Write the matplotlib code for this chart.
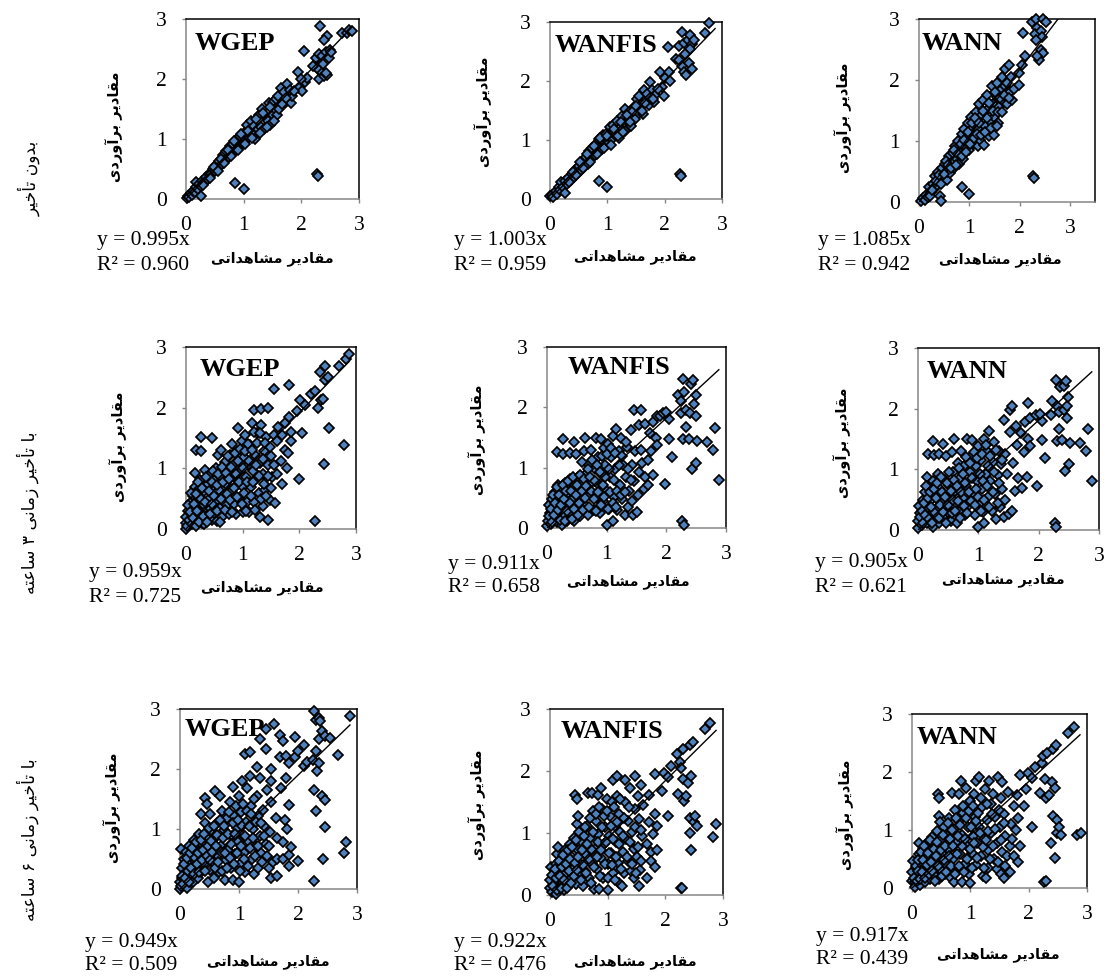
import matplotlib
matplotlib.use("Agg")
import matplotlib.pyplot as plt

W, H = 1107, 977

wgep_0 = [(0.02,0.02),(0.04,0.05),(0.06,0.03),(0.08,0.1),(0.1,0.07),(0.12,0.14),(0.15,0.12),(0.17,0.2),(0.18,0.28),(0.2,0.17),
    (0.22,0.25),(0.26,0.05),(0.26,0.22),(0.28,0.3),(0.32,0.28),(0.34,0.36),(0.38,0.34),(0.4,0.42),(0.44,0.41),(0.46,0.5),
    (0.5,0.46),(0.52,0.56),(0.56,0.52),(0.58,0.64),(0.62,0.58),(0.64,0.74),(0.68,0.65),(0.7,0.8),(0.74,0.7),(0.76,0.88),
    (0.8,0.76),(0.82,0.92),(0.86,0.82),(0.88,1.0),(0.92,0.86),(0.94,1.05),(0.98,0.92),(1.0,1.1),(1.04,0.98),(1.06,1.24),
    (1.1,1.04),(1.12,1.3),(1.16,1.1),(1.18,1.22),(1.2,1.0),(1.24,1.16),(1.26,1.4),(1.3,1.2),(1.32,1.5),(1.36,1.16),
    (1.38,1.36),(1.42,1.3),(1.44,1.6),(1.46,1.24),(1.5,1.4),(1.5,1.62),(1.54,1.5),(1.58,1.4),(1.62,1.5),(1.65,1.85),
    (1.68,1.66),(1.72,1.6),(1.76,1.92),(1.78,1.74),(1.82,1.6),(1.84,1.72),(1.94,2.11),(1.96,1.85),(2.02,1.8),(2.06,1.95),
    (2.1,2.02),(2.05,2.46),(2.25,2.35),(2.3,2.42),(2.35,2.38),(2.25,2.2),(2.2,2.22),(2.3,2.15),(2.35,2.1),(2.3,2.0),
    (2.4,2.05),(2.45,2.07),(2.42,2.1),(2.37,2.25),(2.43,2.45),(2.48,2.35),(2.5,2.48),(2.52,2.45),(2.32,2.89),(2.45,2.72),
    (2.4,2.65),(2.7,2.76),(2.8,2.76),(2.83,2.81),(2.88,2.8),(0.85,0.26),(1.0,0.17),(2.27,0.41),(2.29,0.39),
    (0.3,0.24),(0.42,0.35),(0.48,0.54),(0.55,0.47),(0.6,0.66),(0.66,0.6),(0.72,0.82),(0.78,0.72),(0.84,0.96),(0.9,0.82),
    (0.96,1.08),(1.02,0.92),(1.08,1.14),(1.14,1.02),(1.22,1.34),(1.28,1.1),(1.34,1.44),(1.4,1.2),(1.46,1.54),(1.52,1.3),
    (1.56,1.66),(1.6,1.72),(1.66,1.58),(1.7,1.78),(1.74,1.68),(1.8,1.82),(1.88,1.8),(2.0,2.0)]

wanfis_0 = [(0.0,0.05),(0.03,0.07),(0.06,0.04),(0.1,0.13),(0.12,0.09),(0.15,0.2),(0.18,0.15),(0.2,0.28),(0.22,0.2),(0.26,0.1),
    (0.26,0.3),(0.3,0.26),(0.32,0.36),(0.36,0.32),(0.38,0.42),(0.42,0.38),(0.44,0.5),(0.48,0.44),(0.5,0.56),(0.54,0.5),
    (0.56,0.6),(0.6,0.54),(0.62,0.72),(0.66,0.6),(0.68,0.82),(0.72,0.68),(0.74,0.86),(0.78,0.74),(0.8,0.94),(0.84,0.8),
    (0.86,1.02),(0.9,0.84),(0.92,1.08),(0.96,0.9),(0.98,1.1),(1.02,0.96),(1.04,1.22),(1.08,1.02),(1.1,1.25),(1.14,1.08),
    (1.16,1.32),(1.2,1.04),(1.22,1.2),(1.26,1.4),(1.3,1.16),(1.3,1.52),(1.36,1.3),(1.38,1.48),(1.42,1.24),(1.46,1.56),
    (1.48,1.36),(1.52,1.7),(1.55,1.45),(1.58,1.6),(1.62,1.44),(1.64,1.85),(1.68,1.7),(1.72,1.6),(1.75,1.98),(1.78,1.85),
    (1.82,1.64),(1.84,1.76),(1.92,2.16),(1.98,1.75),(1.95,1.9),(2.0,2.05),(2.08,2.16),(2.1,2.0),(2.05,2.58),(2.2,2.38),
    (2.25,2.35),(2.3,2.25),(2.33,2.15),(2.38,2.1),(2.42,2.3),(2.47,2.2),(2.3,2.83),(2.25,2.6),(2.33,2.65),(2.4,2.7),
    (2.45,2.78),(2.48,2.62),(2.52,2.7),(2.45,2.55),(2.36,2.45),(2.7,2.82),(2.78,2.98),(0.85,0.31),(1.0,0.21),(2.27,0.42),(2.29,0.39),
    (0.34,0.28),(0.4,0.46),(0.46,0.4),(0.52,0.62),(0.58,0.52),(0.64,0.76),(0.7,0.62),(0.76,0.9),(0.82,0.76),(0.88,1.04),
    (0.94,0.86),(1.0,1.06),(1.06,0.92),(1.12,1.18),(1.18,1.06),(1.24,1.3),(1.28,1.14),(1.34,1.42),(1.4,1.3),(1.44,1.5),
    (1.5,1.58),(1.56,1.74),(1.6,1.5),(1.66,1.62),(1.7,1.78),(1.74,1.72),(1.8,1.7),(1.88,1.86)]

wann_0 = [(0.03,0.01),(0.08,0.06),(0.12,0.04),(0.14,0.12),(0.18,0.09),(0.2,0.25),(0.24,0.16),(0.27,0.3),(0.3,0.22),(0.32,0.42),
    (0.36,0.28),(0.38,0.5),(0.42,0.1),(0.43,0.01),(0.42,0.36),(0.46,0.55),(0.48,0.4),(0.52,0.62),(0.55,0.36),(0.56,0.5),
    (0.6,0.75),(0.62,0.48),(0.65,0.66),(0.68,0.8),(0.7,0.55),(0.72,0.92),(0.75,0.7),(0.78,1.0),(0.8,0.62),(0.82,0.82),
    (0.85,1.12),(0.88,0.7),(0.9,1.2),(0.92,0.92),(0.95,1.05),(0.98,1.3),(1.0,0.85),(1.03,1.4),(1.05,1.1),(1.08,0.95),
    (1.1,1.28),(1.13,1.48),(1.17,0.92),(1.18,1.2),(1.2,1.6),(1.22,1.02),(1.25,1.42),(1.28,1.68),(1.3,0.94),(1.32,1.25),
    (1.35,1.75),(1.37,1.52),(1.4,1.08),(1.42,1.32),(1.45,1.9),(1.47,1.6),(1.5,1.1),(1.5,1.4),(1.55,1.95),(1.55,1.72),
    (1.58,1.3),(1.6,1.55),(1.65,2.05),(1.66,1.85),(1.68,1.65),(1.72,1.9),(1.72,2.18),(1.75,1.6),(1.78,2.25),(1.8,1.8),
    (1.82,2.05),(1.85,1.68),(1.88,1.85),(1.98,1.92),(1.98,2.12),(2.05,2.25),(2.1,2.4),(2.07,2.77),(2.25,2.95),(2.32,3.0),
    (2.47,3.0),(2.52,2.95),(2.35,2.85),(2.3,2.75),(2.42,2.8),(2.45,2.7),(2.33,2.65),(2.42,2.5),(2.47,2.45),(2.38,2.32),
    (2.35,2.4),(0.85,0.25),(1.0,0.13),(2.27,0.43),(2.29,0.4),
    (0.22,0.1),(0.26,0.2),(0.34,0.35),(0.4,0.45),(0.44,0.3),(0.5,0.46),(0.54,0.68),(0.58,0.6),(0.64,0.55),(0.7,0.85),
    (0.74,0.6),(0.78,0.78),(0.84,0.95),(0.86,0.75),(0.9,1.02),(0.94,0.82),(0.98,1.15),(1.02,0.95),(1.06,1.3),(1.1,1.05),
    (1.12,1.38),(1.15,1.12),(1.2,1.3),(1.24,1.1),(1.28,1.5),(1.32,1.15),(1.35,1.38),(1.4,1.62),(1.44,1.22),(1.48,1.5),
    (1.52,1.8),(1.55,1.25),(1.58,1.48),(1.62,1.7),(1.65,1.48),(1.7,1.75),(1.75,1.95),(1.78,1.7)]

wgep_3 = [(0.0,0.0),(0.0,0.1),(0.0,0.2),(0.02,0.05),(0.03,0.3),(0.05,0.15),(0.08,0.45),(0.1,0.08),(0.1,0.25),(0.12,0.55),
    (0.15,0.35),(0.15,0.7),(0.15,0.93),(0.18,0.15),(0.2,0.48),(0.22,0.65),(0.25,0.28),(0.25,0.8),(0.28,0.1),(0.3,0.42),
    (0.32,0.08),(0.32,0.62),(0.33,0.97),(0.35,0.22),(0.38,0.75),(0.4,0.5),(0.42,0.35),(0.43,0.9),(0.45,0.15),(0.47,0.62),
    (0.5,0.27),(0.5,0.8),(0.52,0.45),(0.53,1.0),(0.55,0.13),(0.56,1.22),(0.58,0.65),(0.6,0.35),(0.6,0.88),(0.62,1.3),
    (0.64,0.2),(0.66,0.55),(0.68,1.1),(0.7,0.75),(0.72,0.4),(0.74,0.95),(0.76,0.25),(0.78,1.22),(0.8,0.62),(0.82,1.4),
    (0.84,0.85),(0.85,0.42),(0.87,1.08),(0.88,0.25),(0.9,0.72),(0.9,1.28),(0.92,1.66),(0.94,0.5),(0.96,0.95),(0.98,1.45),
    (1.0,0.28),(1.0,0.7),(1.02,1.18),(1.04,1.55),(1.06,0.85),(1.08,0.45),(1.1,1.05),(1.12,0.28),(1.13,1.38),(1.15,0.7),
    (1.17,1.75),(1.18,0.95),(1.2,1.96),(1.2,0.45),(1.22,1.22),(1.24,0.82),(1.26,1.58),(1.28,0.6),(1.3,1.08),(1.3,0.2),
    (1.33,1.98),(1.33,1.72),(1.35,0.9),(1.35,0.38),(1.38,1.28),(1.4,0.65),(1.42,1.52),(1.45,2.0),(1.45,1.05),(1.45,0.15),
    (1.48,0.48),(1.5,1.2),(1.52,0.85),(1.55,2.3),(1.55,1.55),(1.57,0.43),(1.6,0.9),(1.6,1.45),(1.62,1.68),(1.68,1.12),
    (1.7,0.75),(1.7,1.55),(1.75,1.3),(1.75,1.75),(1.78,1.0),(1.8,1.25),(1.82,2.37),(1.82,1.85),(1.85,1.45),(1.85,1.6),
    (1.95,1.95),(2.0,0.83),(2.02,2.12),(2.05,1.58),(2.1,2.05),(2.2,2.22),(2.27,2.28),(2.27,0.14),(2.33,2.0),(2.38,2.12),
    (2.42,2.15),(2.37,2.58),(2.45,2.69),(2.45,2.45),(2.5,2.5),(2.43,1.07),(2.53,1.67),(2.7,2.69),(2.78,1.39),(2.82,2.81),
    (2.88,2.89),(0.27,1.52),(0.45,1.5),(0.18,1.3),(0.27,1.28),
    (0.04,0.4),(0.07,0.28),(0.09,0.6),(0.12,0.18),(0.14,0.42),(0.17,0.05),(0.18,0.58),(0.2,0.3),(0.22,0.78),(0.23,0.12),
    (0.26,0.5),(0.28,0.68),(0.3,0.22),(0.34,0.45),(0.36,0.85),(0.37,0.12),(0.4,0.62),(0.42,0.25),(0.45,0.78),(0.46,0.42),
    (0.48,0.95),(0.5,0.55),(0.54,0.72),(0.55,0.3),(0.57,0.9),(0.6,0.12),(0.62,0.5),(0.64,1.02),(0.66,0.78),(0.68,0.32),
    (0.7,0.92),(0.72,0.58),(0.74,1.2),(0.76,0.82),(0.78,0.48),(0.8,1.02),(0.82,0.28),(0.84,0.68),(0.86,1.25),(0.88,0.9),
    (0.9,0.52),(0.92,1.12),(0.94,0.78),(0.96,1.32),(0.98,0.42),(1.0,1.0),(1.02,0.6),(1.04,1.28),(1.06,0.3),(1.08,0.78),
    (1.1,1.4),(1.12,1.12),(1.14,0.55),(1.16,1.3),(1.18,0.78),(1.2,1.6),(1.22,0.32),(1.24,1.05),(1.26,1.42),(1.28,0.88),
    (1.3,1.58),(1.32,0.5),(1.35,1.15),(1.38,0.75),(1.4,1.42),(1.42,0.55),(1.45,0.88),(1.48,1.35),(1.5,0.68),(1.55,1.05)]

wanfis_3 = [(0.0,0.03),(0.02,0.12),(0.03,0.38),(0.05,0.25),(0.06,0.06),(0.08,0.48),(0.1,0.17),(0.12,0.35),(0.14,0.6),(0.16,0.1),
    (0.17,1.26),(0.18,0.72),(0.2,0.28),(0.22,0.5),(0.25,0.05),(0.25,0.65),(0.27,1.47),(0.27,1.23),(0.28,0.2),(0.3,0.75),
    (0.32,0.4),(0.34,0.12),(0.36,0.58),(0.38,1.25),(0.38,0.82),(0.4,0.25),(0.42,0.48),(0.45,1.42),(0.45,0.12),(0.46,0.7),
    (0.48,1.22),(0.5,0.36),(0.52,0.85),(0.54,0.55),(0.56,0.2),(0.58,1.1),(0.6,0.72),(0.62,1.28),(0.63,1.5),(0.64,0.38),
    (0.66,0.9),(0.68,0.22),(0.7,1.05),(0.72,0.55),(0.74,1.3),(0.76,0.76),(0.78,0.3),(0.8,0.98),(0.82,1.5),(0.83,0.5),
    (0.85,1.18),(0.87,0.72),(0.88,0.25),(0.9,1.47),(0.92,0.88),(0.94,0.45),(0.96,1.32),(0.98,1.05),(1.0,0.05),(1.0,0.62),
    (1.02,1.4),(1.04,0.32),(1.06,0.85),(1.08,1.18),(1.1,0.12),(1.1,1.52),(1.12,0.52),(1.14,0.98),(1.16,1.64),(1.18,0.3),
    (1.2,1.28),(1.22,0.72),(1.24,1.5),(1.26,0.48),(1.28,1.05),(1.3,0.22),(1.32,0.85),(1.34,1.35),(1.36,0.35),(1.38,0.62),
    (1.4,1.62),(1.42,1.05),(1.44,0.22),(1.45,1.96),(1.46,0.78),(1.48,1.28),(1.5,0.26),(1.52,0.55),(1.54,1.7),(1.55,0.92),
    (1.58,1.96),(1.58,1.3),(1.6,1.08),(1.62,0.65),(1.64,1.72),(1.65,0.85),(1.7,1.12),(1.7,0.72),(1.72,1.58),(1.75,1.28),
    (1.78,0.88),(1.78,1.75),(1.82,1.5),(1.85,1.85),(1.85,1.38),(1.9,1.85),(1.95,1.9),(1.98,0.73),(2.0,1.92),(2.05,1.8),
    (2.05,1.48),(2.1,1.18),(2.2,2.2),(2.25,2.1),(2.25,1.9),(2.27,0.12),(2.29,0.05),(2.28,1.47),(2.28,2.47),(2.3,2.25),
    (2.33,1.95),(2.33,1.67),(2.38,1.48),(2.4,1.9),(2.42,2.38),(2.43,0.98),(2.45,2.45),(2.47,2.05),(2.5,2.2),(2.5,1.85),
    (2.5,1.08),(2.52,1.44),(2.68,1.43),(2.78,1.3),(2.82,1.66),(2.88,0.8),
    (0.04,0.2),(0.07,0.32),(0.09,0.1),(0.1,0.55),(0.12,0.22),(0.14,0.42),(0.16,0.68),(0.18,0.3),(0.2,0.55),(0.22,0.14),
    (0.24,0.38),(0.26,0.72),(0.28,0.48),(0.3,0.12),(0.32,0.62),(0.34,0.28),(0.36,0.78),(0.38,0.42),(0.4,0.62),(0.42,0.15),
    (0.44,0.85),(0.46,0.32),(0.48,0.55),(0.5,0.72),(0.52,0.22),(0.54,0.42),(0.56,0.88),(0.58,0.62),(0.6,0.3),(0.62,0.82),
    (0.64,0.5),(0.66,0.7),(0.68,0.98),(0.7,0.35),(0.72,0.85),(0.74,0.62),(0.76,1.12),(0.78,0.48),(0.8,0.78),(0.82,0.28),
    (0.84,1.05),(0.86,0.6),(0.88,0.92),(0.9,0.38),(0.92,1.2),(0.94,0.72),(0.96,0.52),(0.98,0.85),(1.0,1.22),(1.02,0.32),
    (1.04,0.98),(1.06,0.6),(1.08,1.32),(1.1,0.42),(1.12,0.8),(1.14,1.25),(1.16,0.35),(1.18,0.62),(1.2,1.05),(1.24,0.55),
    (1.26,1.2),(1.3,0.6),(1.32,1.42),(1.35,0.98),(1.4,0.8),(1.42,0.45)]

wann_3 = [(0.0,0.03),(0.0,0.15),(0.02,0.4),(0.04,0.28),(0.06,0.08),(0.08,0.5),(0.1,0.2),(0.12,0.62),(0.14,0.35),(0.15,0.12),
    (0.15,0.88),(0.17,1.25),(0.18,0.72),(0.2,0.48),(0.22,0.25),(0.25,0.05),(0.25,0.8),(0.25,1.47),(0.27,1.23),(0.28,0.58),
    (0.3,0.35),(0.33,0.93),(0.35,1.25),(0.35,0.12),(0.37,0.68),(0.4,0.45),(0.42,1.42),(0.42,0.22),(0.44,0.82),(0.47,1.22),
    (0.48,0.55),(0.5,0.3),(0.52,0.75),(0.54,0.15),(0.56,1.28),(0.58,0.95),(0.6,0.42),(0.6,1.5),(0.62,0.65),(0.64,0.12),
    (0.66,1.1),(0.68,0.3),(0.7,0.85),(0.72,1.3),(0.74,0.52),(0.76,1.05),(0.78,0.25),(0.8,0.72),(0.82,1.5),(0.84,0.42),
    (0.86,0.95),(0.88,1.22),(0.9,1.48),(0.92,0.6),(0.94,0.25),(0.96,1.05),(0.98,0.8),(1.0,0.05),(1.0,1.38),(1.02,0.45),
    (1.04,1.15),(1.06,0.68),(1.08,0.3),(1.1,0.12),(1.1,1.5),(1.12,0.92),(1.14,1.3),(1.16,0.55),(1.18,1.64),(1.2,0.8),
    (1.22,0.32),(1.24,1.12),(1.26,1.45),(1.28,0.6),(1.3,0.18),(1.32,0.9),(1.34,1.3),(1.36,0.38),(1.38,1.08),(1.4,0.68),
    (1.42,0.22),(1.42,1.82),(1.45,1.25),(1.48,0.92),(1.5,0.26),(1.52,1.62),(1.52,1.98),(1.55,2.05),(1.56,0.32),(1.58,1.1),
    (1.6,0.65),(1.62,1.72),(1.64,1.4),(1.66,0.85),(1.7,1.6),(1.72,0.7),(1.75,1.28),(1.78,1.78),(1.8,0.88),(1.82,2.1),
    (1.82,1.5),(1.85,1.85),(1.85,1.38),(1.95,1.9),(1.98,0.73),(2.05,1.8),(2.05,1.48),(2.02,1.92),(2.1,1.18),(2.2,1.9),
    (2.22,2.13),(2.27,0.12),(2.29,0.05),(2.28,2.47),(2.3,2.05),(2.33,1.95),(2.33,1.67),(2.3,1.47),(2.38,1.48),(2.35,2.35),
    (2.42,1.98),(2.42,2.38),(2.43,0.98),(2.45,2.45),(2.47,2.05),(2.48,2.2),(2.47,1.85),(2.5,1.08),(2.52,1.44),(2.68,1.43),
    (2.78,1.3),(2.82,1.66),(2.88,0.8),
    (0.03,0.22),(0.06,0.32),(0.08,0.12),(0.1,0.45),(0.12,0.25),(0.13,0.72),(0.16,0.52),(0.18,0.18),(0.2,0.62),(0.22,0.38),
    (0.24,0.12),(0.26,0.68),(0.28,0.28),(0.3,0.52),(0.32,0.78),(0.34,0.2),(0.36,0.42),(0.38,0.88),(0.4,0.62),(0.42,0.3),
    (0.44,0.55),(0.46,0.12),(0.48,0.78),(0.5,0.42),(0.52,0.95),(0.54,0.65),(0.56,0.28),(0.58,0.5),(0.6,0.82),(0.62,0.32),
    (0.64,0.72),(0.66,0.48),(0.68,1.02),(0.7,0.2),(0.72,0.62),(0.74,0.92),(0.76,0.4),(0.78,0.78),(0.8,1.2),(0.82,0.28),
    (0.84,0.62),(0.86,1.1),(0.88,0.48),(0.9,0.85),(0.92,1.28),(0.94,0.42),(0.96,0.68),(0.98,1.18),(1.0,0.55),(1.02,0.92),
    (1.04,0.32),(1.06,1.25),(1.08,0.8),(1.1,0.5),(1.12,1.4),(1.14,0.72),(1.16,1.05),(1.18,0.38),(1.2,1.22),(1.24,0.62),
    (1.26,0.95),(1.3,1.32),(1.32,0.45),(1.35,0.78),(1.4,1.15),(1.45,0.5)]

wgep_6 = [(0.0,0.0),(0.0,0.12),(0.02,0.05),(0.03,0.35),(0.04,0.18),(0.02,0.67),(0.06,0.5),(0.08,0.08),(0.1,0.28),(0.1,0.62),
    (0.12,0.02),(0.14,0.42),(0.16,0.72),(0.18,0.2),(0.2,0.55),(0.22,0.12),(0.24,0.82),(0.26,0.38),(0.28,0.65),(0.3,0.18),
    (0.32,0.92),(0.34,0.5),(0.35,1.25),(0.36,0.28),(0.38,0.75),(0.4,0.42),(0.43,1.52),(0.42,1.1),(0.44,0.62),(0.45,1.42),
    (0.46,0.85),(0.48,0.12),(0.5,1.25),(0.5,0.32),(0.52,0.98),(0.54,0.68),(0.56,0.45),(0.58,0.18),(0.6,1.63),(0.6,0.85),
    (0.62,1.1),(0.64,0.55),(0.66,0.28),(0.68,1.55),(0.7,0.72),(0.72,1.3),(0.74,0.98),(0.76,0.15),(0.78,0.48),(0.8,1.18),
    (0.82,0.65),(0.84,1.45),(0.86,0.35),(0.88,0.88),(0.9,1.7),(0.9,0.15),(0.92,1.22),(0.94,0.58),(0.96,1.02),(0.98,0.78),
    (1.0,0.12),(1.0,1.55),(1.02,0.42),(1.04,1.28),(1.05,1.8),(1.06,0.9),(1.08,0.6),(1.1,2.25),(1.1,0.28),(1.12,1.12),
    (1.14,1.68),(1.16,0.8),(1.18,2.28),(1.18,1.88),(1.2,1.38),(1.22,0.5),(1.24,1.0),(1.26,0.25),(1.28,0.72),(1.3,2.03),
    (1.3,1.55),(1.32,1.22),(1.32,0.35),(1.35,2.5),(1.35,1.85),(1.36,0.88),(1.38,0.6),(1.4,1.32),(1.42,1.05),(1.45,2.67),
    (1.45,2.33),(1.45,0.75),(1.48,1.65),(1.5,0.35),(1.52,0.95),(1.55,2.0),(1.55,1.8),(1.55,1.45),(1.55,0.18),(1.58,0.45),
    (1.6,2.75),(1.62,1.18),(1.64,0.85),(1.65,0.22),(1.65,0.5),(1.7,2.57),(1.7,2.2),(1.72,1.68),(1.75,2.47),(1.75,0.5),
    (1.75,0.78),(1.78,1.15),(1.8,2.22),(1.8,1.85),(1.82,1.0),(1.85,2.1),(1.85,1.4),(1.85,0.57),(1.85,0.38),(1.88,0.7),
    (1.95,2.53),(1.95,2.2),(2.0,0.47),(2.0,2.3),(2.1,2.05),(2.1,2.4),(2.15,2.12),(2.25,2.15),(2.27,0.13),(2.27,1.65),
    (2.27,2.97),(2.3,2.82),(2.3,2.3),(2.3,1.3),(2.32,1.97),(2.35,2.1),(2.35,2.5),(2.35,2.85),(2.38,2.8),(2.4,2.63),
    (2.4,1.55),(2.42,0.5),(2.45,2.55),(2.45,1.48),(2.45,1.03),(2.55,2.52),(2.68,2.23),(2.78,0.6),(2.82,0.78),(2.88,2.88),
    (0.03,0.22),(0.05,0.08),(0.07,0.42),(0.09,0.18),(0.12,0.52),(0.13,0.3),(0.15,0.12),(0.17,0.6),(0.19,0.35),(0.21,0.68),
    (0.23,0.25),(0.25,0.52),(0.27,0.78),(0.29,0.42),(0.31,0.6),(0.33,0.28),(0.35,0.82),(0.37,0.48),(0.39,0.65),(0.41,0.92),
    (0.43,0.3),(0.45,0.55),(0.47,0.72),(0.49,1.02),(0.51,0.48),(0.53,0.8),(0.55,0.62),(0.57,1.05),(0.59,0.35),(0.61,0.72),
    (0.63,0.9),(0.65,0.45),(0.67,1.15),(0.69,0.62),(0.71,0.3),(0.73,0.85),(0.75,1.05),(0.77,0.6),(0.79,0.35),(0.81,0.92),
    (0.83,1.28),(0.85,0.52),(0.87,0.75),(0.89,1.1),(0.91,0.42),(0.93,0.92),(0.95,1.38),(0.97,0.6),(0.99,1.15),(1.01,0.3),
    (1.03,0.72),(1.05,1.05),(1.07,1.42),(1.09,0.5),(1.11,0.88),(1.13,1.3),(1.15,0.38),(1.17,1.05),(1.19,0.68),(1.21,1.25),
    (1.23,0.85),(1.25,1.5),(1.27,0.55),(1.29,1.12),(1.33,0.72),(1.37,1.1),(1.39,0.45),(1.43,0.88),(1.47,0.55),(1.5,0.72)]

wanfis_6 = [(0.0,0.12),(0.0,0.25),(0.02,0.45),(0.04,0.05),(0.05,0.33),(0.08,0.18),(0.1,0.5),(0.1,0.02),(0.12,0.66),(0.14,0.28),
    (0.14,0.78),(0.16,0.12),(0.18,0.42),(0.2,0.6),(0.22,0.2),(0.24,0.08),(0.26,0.72),(0.28,0.35),(0.3,0.52),(0.32,0.15),
    (0.34,0.82),(0.36,0.28),(0.38,0.62),(0.4,0.42),(0.42,0.92),(0.44,1.62),(0.45,0.18),(0.47,1.55),(0.46,1.15),(0.48,1.27),
    (0.48,0.72),(0.5,0.32),(0.52,0.5),(0.54,1.02),(0.56,0.85),(0.58,0.15),(0.6,0.38),(0.62,0.65),(0.66,1.64),(0.64,1.12),
    (0.68,0.28),(0.7,0.92),(0.72,0.5),(0.72,1.65),(0.74,1.35),(0.76,0.1),(0.78,0.75),(0.8,1.2),(0.82,0.42),(0.84,1.62),
    (0.84,0.98),(0.85,0.1),(0.88,1.72),(0.88,0.6),(0.9,1.38),(0.92,0.28),(0.94,0.82),(0.96,1.1),(0.98,1.55),(1.0,0.08),
    (1.0,0.5),(1.02,0.95),(1.04,1.28),(1.06,0.68),(1.08,1.5),(1.1,0.35),(1.1,1.85),(1.12,1.12),(1.14,0.85),(1.16,1.92),
    (1.16,1.6),(1.18,0.52),(1.2,0.2),(1.2,1.3),(1.22,1.02),(1.25,0.15),(1.26,0.7),(1.28,0.35),(1.3,1.5),(1.3,1.85),
    (1.32,0.9),(1.35,1.2),(1.36,0.55),(1.38,1.72),(1.4,0.38),(1.42,1.02),(1.45,0.28),(1.45,0.75),(1.48,1.92),(1.48,1.38),
    (1.5,0.62),(1.52,1.6),(1.55,1.22),(1.55,0.15),(1.56,0.4),(1.58,0.55),(1.58,1.78),(1.6,0.95),(1.62,1.45),(1.68,0.28),
    (1.68,0.82),(1.72,1.62),(1.72,1.18),(1.75,0.7),(1.76,0.55),(1.78,0.98),(1.82,1.3),(1.82,0.45),(1.85,0.72),(1.85,1.12),
    (1.82,1.95),(1.95,1.68),(1.98,1.97),(2.05,1.27),(2.05,1.9),(2.1,2.08),(2.22,1.63),(2.2,2.28),(2.25,2.15),(2.27,0.11),
    (2.29,0.11),(2.28,2.05),(2.3,1.87),(2.3,2.35),(2.32,1.52),(2.35,1.6),(2.4,1.8),(2.42,2.42),(2.45,1.92),(2.48,2.47),
    (2.42,1.0),(2.43,1.25),(2.45,0.72),(2.5,1.17),(2.52,1.27),(2.55,1.12),(2.68,2.68),(2.78,2.78),(2.82,0.93),(2.88,1.15),
    (0.03,0.32),(0.06,0.15),(0.08,0.42),(0.11,0.28),(0.13,0.08),(0.15,0.55),(0.17,0.3),(0.19,0.12),(0.21,0.45),(0.23,0.65),
    (0.25,0.25),(0.27,0.5),(0.29,0.12),(0.31,0.72),(0.33,0.38),(0.35,0.58),(0.37,0.2),(0.39,0.78),(0.41,0.3),(0.43,0.52),
    (0.45,0.88),(0.47,0.4),(0.49,0.62),(0.51,1.02),(0.53,0.25),(0.55,0.72),(0.57,0.48),(0.59,0.95),(0.61,1.1),(0.63,0.35),
    (0.65,0.82),(0.67,0.58),(0.69,1.25),(0.71,0.2),(0.73,0.72),(0.75,1.02),(0.77,0.45),(0.79,1.3),(0.81,0.62),(0.83,0.85),
    (0.85,1.42),(0.87,0.3),(0.89,0.72),(0.91,1.1),(0.93,1.28),(0.95,0.5),(0.97,0.85),(0.99,1.35),(1.01,0.28),(1.03,0.68),
    (1.05,1.12),(1.07,0.48),(1.09,0.9),(1.11,1.42),(1.13,0.25),(1.15,0.62),(1.17,1.18),(1.19,0.82),(1.21,1.55),(1.23,0.42),
    (1.27,0.95),(1.29,1.25),(1.33,0.62),(1.37,1.42),(1.39,0.85),(1.43,0.5),(1.47,1.1),(1.49,0.35),(1.53,0.78),(1.57,1.05)]

wann_6 = [(0.0,0.12),(0.0,0.28),(0.02,0.46),(0.05,0.1),(0.05,0.02),(0.07,0.35),(0.1,0.2),(0.12,0.58),(0.12,0.78),(0.14,0.05),
    (0.16,0.42),(0.18,0.68),(0.2,0.25),(0.22,0.1),(0.24,0.52),(0.26,0.78),(0.28,0.35),(0.3,0.15),(0.32,0.62),(0.34,0.88),
    (0.36,0.42),(0.38,0.22),(0.4,0.72),(0.42,0.98),(0.44,1.62),(0.44,0.52),(0.46,0.15),(0.47,1.55),(0.47,1.25),(0.48,1.14),
    (0.48,0.32),(0.5,0.82),(0.52,0.6),(0.55,1.05),(0.56,0.25),(0.58,0.42),(0.6,0.9),(0.62,0.68),(0.64,1.2),(0.66,0.18),
    (0.68,1.64),(0.7,0.5),(0.72,1.02),(0.72,0.1),(0.74,1.35),(0.76,0.78),(0.78,0.32),(0.8,1.15),(0.8,1.62),(0.82,0.58),
    (0.84,1.85),(0.85,0.1),(0.85,0.92),(0.88,1.3),(0.9,0.42),(0.92,1.72),(0.94,0.72),(0.96,1.05),(0.98,0.25),(1.0,0.08),
    (1.0,1.5),(1.02,0.6),(1.04,0.9),(1.06,1.62),(1.08,1.22),(1.1,0.4),(1.1,1.85),(1.12,0.78),(1.15,1.92),(1.15,1.05),
    (1.18,0.55),(1.2,1.4),(1.22,0.2),(1.24,0.85),(1.25,1.7),(1.26,0.18),(1.28,1.18),(1.3,0.35),(1.3,0.65),(1.32,1.85),
    (1.35,1.45),(1.36,0.95),(1.38,1.62),(1.4,0.5),(1.42,1.22),(1.45,0.32),(1.45,0.78),(1.48,1.92),(1.5,1.05),(1.52,0.25),
    (1.52,1.55),(1.55,0.62),(1.55,1.82),(1.58,0.18),(1.58,1.28),(1.6,0.38),(1.6,0.9),(1.62,0.55),(1.65,1.65),(1.68,0.28),
    (1.68,0.72),(1.7,1.1),(1.72,0.85),(1.75,1.42),(1.75,0.55),(1.78,1.0),(1.8,1.6),(1.82,0.45),(1.82,1.2),(1.85,0.72),
    (1.85,1.95),(1.92,1.42),(1.95,1.7),(1.98,1.98),(2.05,1.05),(2.05,1.9),(2.1,2.08),(2.2,1.63),(2.22,2.15),(2.25,2.28),
    (2.27,0.11),(2.29,0.12),(2.28,1.88),(2.3,1.55),(2.32,2.32),(2.35,1.6),(2.38,0.78),(2.4,1.82),(2.42,1.25),(2.42,2.4),
    (2.45,1.72),(2.45,0.52),(2.47,2.47),(2.48,1.18),(2.48,0.95),(2.52,1.05),(2.55,0.92),(2.68,2.68),(2.78,2.78),(2.82,0.92),(2.9,0.95),
    (0.03,0.18),(0.06,0.38),(0.08,0.12),(0.1,0.48),(0.11,0.3),(0.13,0.15),(0.15,0.62),(0.17,0.28),(0.19,0.48),(0.21,0.72),
    (0.23,0.18),(0.25,0.4),(0.27,0.6),(0.29,0.25),(0.31,0.82),(0.33,0.45),(0.35,0.3),(0.37,0.68),(0.39,0.12),(0.41,0.55),
    (0.43,0.8),(0.45,0.38),(0.49,0.65),(0.51,0.2),(0.53,0.92),(0.55,0.48),(0.57,0.72),(0.59,0.28),(0.61,1.12),(0.63,0.55),
    (0.65,0.85),(0.67,0.38),(0.69,1.0),(0.71,0.72),(0.73,0.25),(0.75,1.2),(0.77,0.58),(0.79,0.9),(0.81,0.38),(0.83,1.08),
    (0.85,0.72),(0.87,1.42),(0.89,0.28),(0.91,0.85),(0.93,1.2),(0.95,0.5),(0.97,1.32),(0.99,0.68),(1.01,1.05),(1.03,0.35),
    (1.05,1.42),(1.07,0.78),(1.09,1.15),(1.11,0.52),(1.13,1.3),(1.17,0.95),(1.19,1.55),(1.21,0.7),(1.23,0.35),(1.27,0.82),
    (1.29,1.45),(1.31,0.98),(1.33,0.5),(1.37,1.28),(1.39,0.72),(1.43,1.02),(1.47,0.45),(1.49,1.35),(1.53,0.82),(1.57,1.12)]

panel_points = [[wgep_0, wanfis_0, wann_0], [wgep_3, wanfis_3, wann_3], [wgep_6, wanfis_6, wann_6]]
models = ["WGEP", "WANFIS", "WANN"]
slopes = [[0.995, 1.003, 1.085], [0.959, 0.911, 0.905], [0.949, 0.922, 0.917]]
r2 = [["0.960", "0.959", "0.942"], ["0.725", "0.658", "0.621"], ["0.509", "0.476", "0.439"]]
x_tops = [[3, 3, 3.5], [3, 3, 3], [3, 3, 3]]
ticks = [0, 1, 2, 3]
trend_end = 2.88

x_label = "مقادیر مشاهداتی"
y_label = "مقادیر برآوردی"
row_labels = ["بدون تأخیر", "با تأخیر زمانی ۳ ساعته", "با تأخیر زمانی ۶ ساعته"]

# pixel layout: left, right, top, bottom of each plot box
boxes = [[(186, 359, 19, 199), (550, 722, 22, 199), (919, 1095, 19, 202)],
         [(186, 356, 347, 529), (547, 726, 347, 528), (918, 1099, 348, 530)],
         [(180, 357, 709, 889), (550, 723, 709, 895), (912, 1087, 714, 888)]]
name_pos = [[(195, 43), (555, 45), (922, 43)], [(200, 369), (568, 367), (927, 372)], [(185, 729), (561, 732), (917, 737)]]
ylab_pos = [[(114, 127), (483, 112), (843, 118)], [(118, 447), (477, 440), (842, 443)], [(112, 808), (477, 805), (845, 815)]]
xlab_pos = [[(272, 259), (635, 257), (1000, 260)], [(262, 588), (628, 582), (1003, 580)], [(268, 962), (635, 962), (998, 955)]]
eq_pos = [[(97, 240, 265), (454, 240, 265), (818, 241, 265)], [(89, 573, 597), (448, 565, 588), (815, 563, 587)],
          [(85, 942, 966), (454, 942, 966), (816, 936, 960)]]
row_pos = [(30, 178), (28, 513), (28, 840)]

# matplotlib does no arabic shaping, so pick the joined forms by hand
forms = {"ا": "\ufe8d\ufe8e", "آ": "\ufe81\ufe82", "أ": "\ufe83\ufe84", "د": "\ufea9\ufeaa", "ر": "\ufead\ufeae",
         "ز": "\ufeaf\ufeb0", "و": "\ufeed\ufeee",
         "ب": "\ufe8f\ufe90\ufe91\ufe92", "ت": "\ufe95\ufe96\ufe97\ufe98", "خ": "\ufea5\ufea6\ufea7\ufea8",
         "س": "\ufeb1\ufeb2\ufeb3\ufeb4", "ش": "\ufeb5\ufeb6\ufeb7\ufeb8", "ع": "\ufec9\ufeca\ufecb\ufecc",
         "ق": "\ufed5\ufed6\ufed7\ufed8", "م": "\ufee1\ufee2\ufee3\ufee4", "ن": "\ufee5\ufee6\ufee7\ufee8",
         "ه": "\ufee9\ufeea\ufeeb\ufeec", "ی": "\ufbfc\ufbfd\ufbfe\ufbff"}


def shape(text):
    out = []
    for i, c in enumerate(text):
        if c not in forms:
            out.append(c)
            continue
        prev = text[i - 1] if i > 0 else " "
        nxt = text[i + 1] if i < len(text) - 1 else " "
        joins_prev = prev in forms and len(forms[prev]) == 4
        joins_next = nxt in forms and len(forms[c]) == 4
        if joins_prev and joins_next:
            out.append(forms[c][3])
        elif joins_prev:
            out.append(forms[c][1])
        elif joins_next:
            out.append(forms[c][2])
        else:
            out.append(forms[c][0])
    return "".join(out)[::-1]


def fx(px):
    return px / W


def fy(py):
    return 1 - py / H


plt.rcParams["font.family"] = ["Liberation Serif", "DejaVu Sans"]
fig = plt.figure(figsize=(W / 100, H / 100), dpi=100)

for r in range(3):
    for c in range(3):
        left, right, top, bottom = boxes[r][c]
        ax = fig.add_axes([fx(left), fy(bottom), (right - left) / W, (bottom - top) / H])
        xs = [p[0] for p in panel_points[r][c]]
        ys = [p[1] for p in panel_points[r][c]]
        ax.plot(xs, ys, ls="none", marker="D", ms=4.8, mfc="#4F81BD", mec="black", mew=1.25, clip_on=False, zorder=3)
        ax.plot([0, trend_end], [0, slopes[r][c] * trend_end], color="black", lw=1.0, zorder=4)
        ax.set_xlim(0, x_tops[r][c])
        ax.set_ylim(0, 3)
        ax.set_xticks(ticks)
        ax.set_yticks(ticks)
        ax.tick_params(axis="x", labelsize=15.5, length=3, width=1, color="#868686", pad=9)
        ax.tick_params(axis="y", labelsize=15.5, length=3, width=1, color="#868686", pad=11)
        for s in ["left", "bottom"]:
            ax.spines[s].set_color("#868686")
            ax.spines[s].set_linewidth(1.1)
        for s in ["top", "right"]:
            ax.spines[s].set_color("black")
            ax.spines[s].set_linewidth(1.1)

        nx, ny = name_pos[r][c]
        fig.text(fx(nx), fy(ny), models[c], fontsize=19, fontweight="bold", ha="left", va="center", zorder=5)
        lx, ly = ylab_pos[r][c]
        fig.text(fx(lx), fy(ly), shape(y_label), family="DejaVu Sans", fontsize=10.5, fontweight="bold",
                 rotation=90, ha="center", va="center")
        lx, ly = xlab_pos[r][c]
        fig.text(fx(lx), fy(ly), shape(x_label), family="DejaVu Sans", fontsize=10.3, fontweight="bold",
                 ha="center", va="center")
        ex, ey1, ey2 = eq_pos[r][c]
        fig.text(fx(ex), fy(ey1), f"y = {slopes[r][c]:.3f}x", fontsize=15.5, ha="left", va="center")
        fig.text(fx(ex), fy(ey2), f"R² = {r2[r][c]}", fontsize=15.5, ha="left", va="center")

for (px, py), label in zip(row_pos, row_labels):
    fig.text(fx(px), fy(py), shape(label), family="DejaVu Sans", fontsize=12.3, rotation=90, ha="center", va="center")

fig.savefig("out.png", dpi=100)
